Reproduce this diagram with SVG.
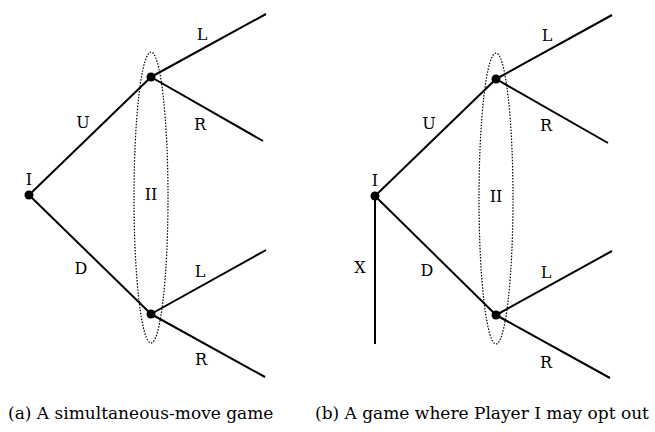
<svg xmlns="http://www.w3.org/2000/svg" width="655" height="432" viewBox="0 0 655 432">
<style>
.e{stroke:#000;stroke-width:2;fill:none}
.n{fill:#000}
.set{fill:none;stroke:#000;stroke-width:1.2;stroke-dasharray:1.5 1.5}
text{font-family:"DejaVu Serif",serif;font-size:16px;fill:#000;text-anchor:middle;dominant-baseline:central}
.cap{font-size:17px;dominant-baseline:auto;text-anchor:start}
</style>
<rect width="655" height="432" fill="#fff"/>
<g id="connectors">
<line class="e" x1="29" y1="195" x2="151" y2="77"/>
<line class="e" x1="29" y1="195" x2="151" y2="314"/>
<line class="e" x1="151" y1="77" x2="266" y2="14"/>
<line class="e" x1="151" y1="77" x2="263" y2="141"/>
<line class="e" x1="151" y1="314" x2="266" y2="250"/>
<line class="e" x1="151" y1="314" x2="265" y2="377"/>
<line class="e" x1="375" y1="196" x2="496" y2="79"/>
<line class="e" x1="375" y1="196" x2="496" y2="315"/>
<line class="e" x1="375" y1="196" x2="375" y2="344"/>
<line class="e" x1="496" y1="79" x2="612" y2="15"/>
<line class="e" x1="496" y1="79" x2="608" y2="143"/>
<line class="e" x1="496" y1="315" x2="612" y2="251"/>
<line class="e" x1="496" y1="315" x2="610" y2="378"/>
</g>
<g id="infoset-a"><ellipse class="set" cx="151" cy="197.5" rx="17" ry="145.5"/><text x="151" y="194">II</text></g>
<g id="infoset-b"><ellipse class="set" cx="496" cy="198.5" rx="17" ry="145.5"/><text x="496" y="196">II</text></g>
<g id="a-root"><circle class="n" cx="29" cy="195" r="4.5"/><text x="29" y="179">I</text></g>
<g id="a-up"><circle class="n" cx="151" cy="77" r="4.5"/></g>
<g id="a-down"><circle class="n" cx="151" cy="314" r="4.5"/></g>
<g id="b-root"><circle class="n" cx="375" cy="196" r="4.5"/><text x="375" y="180">I</text></g>
<g id="b-up"><circle class="n" cx="496" cy="79" r="4.5"/></g>
<g id="b-down"><circle class="n" cx="496" cy="315" r="4.5"/></g>
<g id="labels">
<text x="83" y="122">U</text>
<text x="202" y="34">L</text>
<text x="200" y="124">R</text>
<text x="81" y="268">D</text>
<text x="200" y="271">L</text>
<text x="201" y="359">R</text>
<text x="429" y="123">U</text>
<text x="547" y="35">L</text>
<text x="546" y="125">R</text>
<text x="360" y="267">X</text>
<text x="427" y="270">D</text>
<text x="546" y="272">L</text>
<text x="546" y="362">R</text>
<text class="cap" x="8" y="419">(a) A simultaneous-move game</text>
<text class="cap" x="315" y="419">(b) A game where Player I may opt out</text>
</g>
</svg>
